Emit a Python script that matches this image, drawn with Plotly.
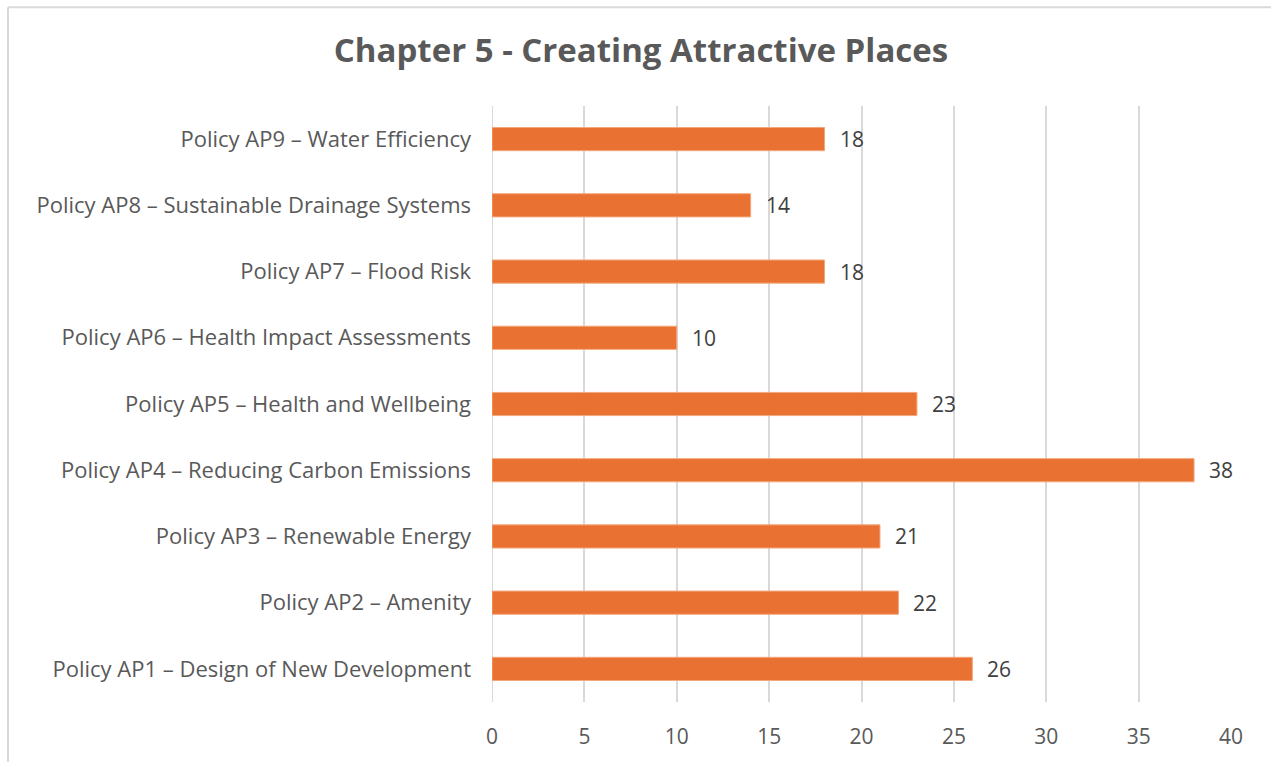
import plotly.graph_objects as go

# Responses per policy, bottom to top as drawn
policies = [
    "Policy AP1 – Design of New Development",
    "Policy AP2 – Amenity",
    "Policy AP3 – Renewable Energy",
    "Policy AP4 – Reducing Carbon Emissions",
    "Policy AP5 – Health and Wellbeing",
    "Policy AP6 – Health Impact Assessments",
    "Policy AP7 – Flood Risk",
    "Policy AP8 – Sustainable Drainage Systems",
    "Policy AP9 – Water Efficiency",
]
counts = [26, 22, 21, 38, 23, 10, 18, 14, 18]
x_ticks = [0, 5, 10, 15, 20, 25, 30, 35, 40]

FONT = "Open Sans"
GREY = "#595959"
BAR = "#E97132"

fig = go.Figure(
    go.Bar(
        x=counts,
        y=policies,
        orientation="h",
        marker=dict(color=BAR, line=dict(color="#F4A77A", width=1)),
        hoverinfo="x+y",
    )
)

# value labels just past the end of each bar
for p, c in zip(policies, counts):
    fig.add_annotation(
        x=c, y=p, text=str(c), showarrow=False,
        xanchor="left", xshift=13,
        font=dict(family=FONT, size=21, color="#404040"),
    )

# chart frame (left and top edges)
L, T, W, H = 492, 106, 739, 598
def px_x(v):
    return (v - L) / W
def px_y(v):
    return (T + H - v) / H
fig.add_shape(type="line", xref="paper", yref="paper",
              x0=px_x(8), x1=px_x(8), y0=px_y(7), y1=px_y(800),
              line=dict(color="#D9D9D9", width=2))
fig.add_shape(type="line", xref="paper", yref="paper",
              x0=px_x(8), x1=px_x(1300), y0=px_y(7), y1=px_y(7),
              line=dict(color="#D9D9D9", width=2))

fig.update_layout(
    width=1271, height=762,
    margin=dict(l=L, r=1271 - L - W, t=T, b=762 - T - H),
    paper_bgcolor="white", plot_bgcolor="white",
    bargap=0.65,
    showlegend=False,
    title=dict(
        text="<b>Chapter 5 - Creating Attractive Places</b>",
        x=641 / 1271, xref="container", xanchor="center",
        y=1 - 50 / 762, yanchor="middle",
        font=dict(family=FONT, size=33, color=GREY),
    ),
    xaxis=dict(
        range=[0, 40], tickvals=x_ticks,
        showgrid=True, gridcolor="#D9D9D9", gridwidth=2,
        zeroline=False, showline=False,
        ticks="", ticklabelstandoff=20,
        tickfont=dict(family=FONT, size=21, color=GREY),
    ),
    yaxis=dict(
        categoryorder="array", categoryarray=policies,
        showgrid=False, zeroline=False, showline=False,
        ticks="", ticklabelstandoff=20,
        tickfont=dict(family=FONT, size=22, color=GREY),
    ),
)
fig.add_vline(x=0, line=dict(color="#D9D9D9", width=2), layer="below")

fig.write_html("out.html")
